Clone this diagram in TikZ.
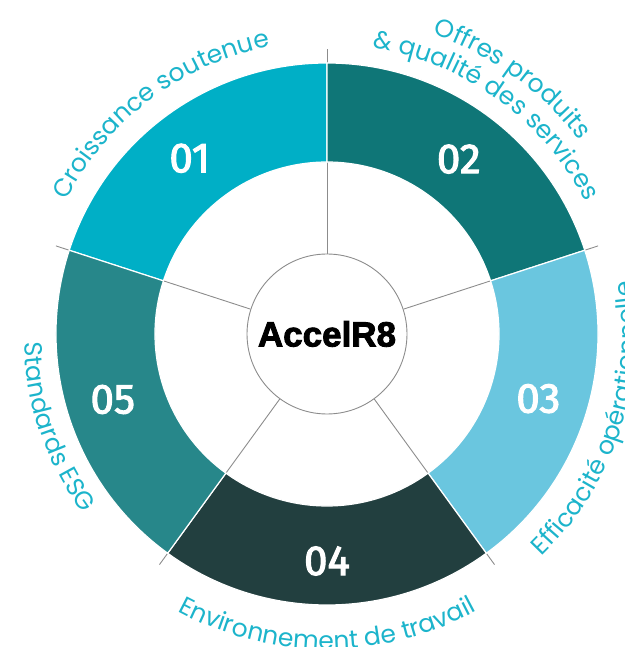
\documentclass[tikz,border=0pt]{standalone}
\usepackage{fontspec}
\setmainfont{Poppins}
\newfontfamily\numfont{Fira Sans}[FakeBold=2.5]
\newfontface\hubfont{Liberation Sans Bold}[FakeBold=2.5]
\usepackage{xcolor}
\definecolor{segone}{HTML}{00AFC6}
\definecolor{segtwo}{HTML}{0F7677}
\definecolor{segthree}{HTML}{6AC6DF}
\definecolor{segfour}{HTML}{223F3F}
\definecolor{segfive}{HTML}{27878A}
\definecolor{lbl}{HTML}{1CB4CB}
\definecolor{spoke}{HTML}{8C8C8C}
\usetikzlibrary{decorations.text}
\newcommand{\lblsize}{\fontsize{25}{30}\selectfont}

\begin{document}
\begin{tikzpicture}[x=1pt,y=1pt,
  seg/.style={draw=white,line width=1.2pt},
  num/.style={text=white,font=\numfont\fontsize{42}{42}\selectfont},
  sp/.style={draw=spoke,line width=0.9pt},
  arclbl/.style={decorate,decoration={text along path,text align=center,text color=lbl}}]
  \useasboundingbox (-327,-313) rectangle (297,334);
  \node[circle,draw=spoke,line width=0.9pt,fill=white,minimum size=160pt,inner sep=0pt,
    font=\hubfont\fontsize{35}{35}\selectfont] (hub) at (0,0) {AccelR8};
  % spoke ends, just outside the ring
  \coordinate (k1) at (90:285);
  \coordinate (k2) at (18:285);
  \coordinate (k3) at (-54:285);
  \coordinate (k4) at (-126:285);
  \coordinate (k5) at (162:285);
  \draw[sp] (hub) -- (k1);
  \draw[sp] (hub) -- (k2);
  \draw[sp] (hub) -- (k3);
  \draw[sp] (hub) -- (k4);
  \draw[sp] (hub) -- (k5);
  % ring segments
  \path[seg,fill=segone] (90:271) arc[start angle=90,end angle=162,radius=271] -- (162:172) arc[start angle=162,end angle=90,radius=172] -- cycle;
  \path[seg,fill=segtwo] (18:271) arc[start angle=18,end angle=90,radius=271] -- (90:172) arc[start angle=90,end angle=18,radius=172] -- cycle;
  \path[seg,fill=segthree] (-54:271) arc[start angle=-54,end angle=18,radius=271] -- (18:172) arc[start angle=18,end angle=-54,radius=172] -- cycle;
  \path[seg,fill=segfour] (-126:271) arc[start angle=-126,end angle=-54,radius=271] -- (-54:172) arc[start angle=-54,end angle=-126,radius=172] -- cycle;
  \path[seg,fill=segfive] (162:271) arc[start angle=162,end angle=234,radius=271] -- (234:172) arc[start angle=234,end angle=162,radius=172] -- cycle;
  \node[num] (n1) at (128:223) {01};
  \node[num] (n2) at (53:219) {02};
  \node[num] (n3) at (-17:221) {03};
  \node[num] (n4) at (-90:227) {04};
  \node[num] (n5) at (197:224) {05};
  % captions bent round the ring
  \path[arclbl,decoration={text={|\lblsize|Croissance soutenue}}] (173:293) arc[start angle=173,end angle=81,radius=293];
  \path[arclbl,decoration={text={|\lblsize|Offres produits}}] (110:318) arc[start angle=110,end angle=-2,radius=318];
  \path[arclbl,decoration={text={|\lblsize|{\&} qualité des services}}] (110:290) arc[start angle=110,end angle=-2,radius=290];
  \path[arclbl,decoration={text={|\lblsize|Efficacité opérationnelle}}] (-78:309) arc[start angle=-78,end angle=42,radius=309];
  \path[arclbl,decoration={text={|\lblsize|Environnement de travail}}] (210:315) arc[start angle=210,end angle=330,radius=315];
  \path[arclbl,decoration={text={|\lblsize|Standards ESG}}] (139:303) arc[start angle=139,end angle=259,radius=303];
\end{tikzpicture}
\end{document}
